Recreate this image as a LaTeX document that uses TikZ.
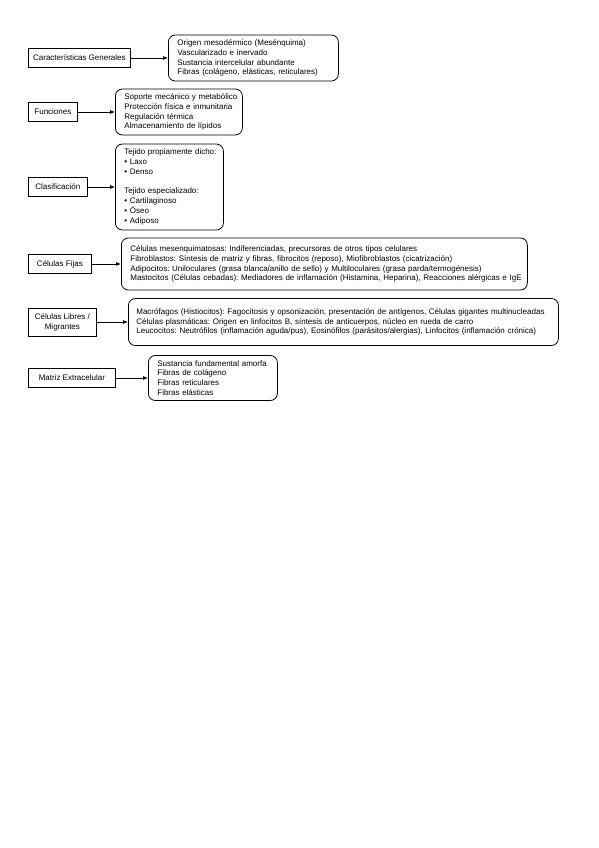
\documentclass[tikz,border=0pt]{standalone}
\usepackage{fontspec}
\setmainfont{Liberation Sans}
\usetikzlibrary{arrows.meta}
\frenchspacing

\begin{document}
\begin{tikzpicture}[
    x=1pt, y=-1pt, % one unit is one pixel of the page, y runs down
    font=\fontsize{8}{9.8}\selectfont, % small sans text everywhere
    topic/.style={
        draw, % square box on the left
        line width=0.75pt,
        inner sep=0pt,
        minimum height=19pt,
        align=center,
        anchor=west
    },
    detail/.style={
        draw, % rounded box on the right
        line width=0.75pt,
        rounded corners=7pt,
        inner xsep=9pt,
        inner ysep=0pt,
        minimum height=46pt,
        align=left,
        anchor=west,
        execute at begin node={\rightskip=-30pt plus 1fil} % lines may run into the right margin
    },
    link/.style={line width=0.75pt, -{Latex[length=5pt,width=4pt]}} % arrow between boxes
]
\useasboundingbox (0,0) rectangle (599,848);

\node[topic, minimum width=102pt] (generales) at (28,58) {Características Generales};
\node[detail, text width=152pt] (generalesTxt) at (168,58) {Origen mesodérmico (Mesénquima)\\
    Vascularizado e inervado\\
    Sustancia intercelular abundante\\
    Fibras (colágeno, elásticas, reticulares)};

\node[topic, minimum width=49pt] (funciones) at (28,112) {Funciones};
\node[detail, text width=109pt] (funcionesTxt) at (115,112) {Soporte mecánico y metabólico\\
    Protección física e inmunitaria\\
    Regulación térmica\\
    Almacenamiento de lípidos};

\node[topic, minimum width=59pt] (clasif) at (28,187) {Clasificación};
\node[detail, text width=90pt, minimum height=86pt] (clasifTxt) at (115,187) {Tejido propiamente dicho:\\
    • Laxo\\
    • Denso\\[9.8pt]
    Tejido especializado:\\
    • Cartilaginoso\\
    • Óseo\\
    • Adiposo};

\node[topic, minimum width=63pt] (fijas) at (28,264) {Células Fijas};
\node[detail, text width=388pt, minimum height=52pt] (fijasTxt) at (121,264) {Células mesenquimatosas: Indiferenciadas, precursoras de otros tipos celulares\\
    Fibroblastos: Síntesis de matriz y fibras, fibrocitos (reposo), Miofibroblastos (cicatrización)\\
    Adipocitos: Uniloculares (grasa blanca/anillo de sello) y Multiloculares (grasa parda/termogénesis)\\
    Mastocitos (Células cebadas): Mediadores de inflamación (Histamina, Heparina), Reacciones alérgicas e IgE};

\node[topic, minimum width=68pt, minimum height=28pt] (libres) at (28,322) {Células Libres /\\ Migrantes};
\node[detail, text width=414pt, inner xsep=8pt, minimum height=47pt] (libresTxt) at (128,322) {Macrófagos (Histiocitos): Fagocitosis y opsonización, presentación de antígenos, Células gigantes multinucleadas\\
    Células plasmáticas: Origen en linfocitos B, síntesis de anticuerpos, núcleo en rueda de carro\\
    Leucocitos: Neutrófilos (inflamación aguda/pus), Eosinófilos (parásitos/alergias), Linfocitos (inflamación crónica)};

\node[topic, minimum width=87pt] (matriz) at (28,378) {Matriz Extracelular};
\node[detail, text width=111pt, minimum height=45pt] (matrizTxt) at (148,378) {Sustancia fundamental amorfa\\
    Fibras de colágeno\\
    Fibras reticulares\\
    Fibras elásticas};

\draw[link] (generales) -- (generalesTxt);
\draw[link] (funciones) -- (funcionesTxt);
\draw[link] (clasif) -- (clasifTxt);
\draw[link] (fijas) -- (fijasTxt);
\draw[link] (libres) -- (libresTxt);
\draw[link] (matriz) -- (matrizTxt);
\end{tikzpicture}
\end{document}
